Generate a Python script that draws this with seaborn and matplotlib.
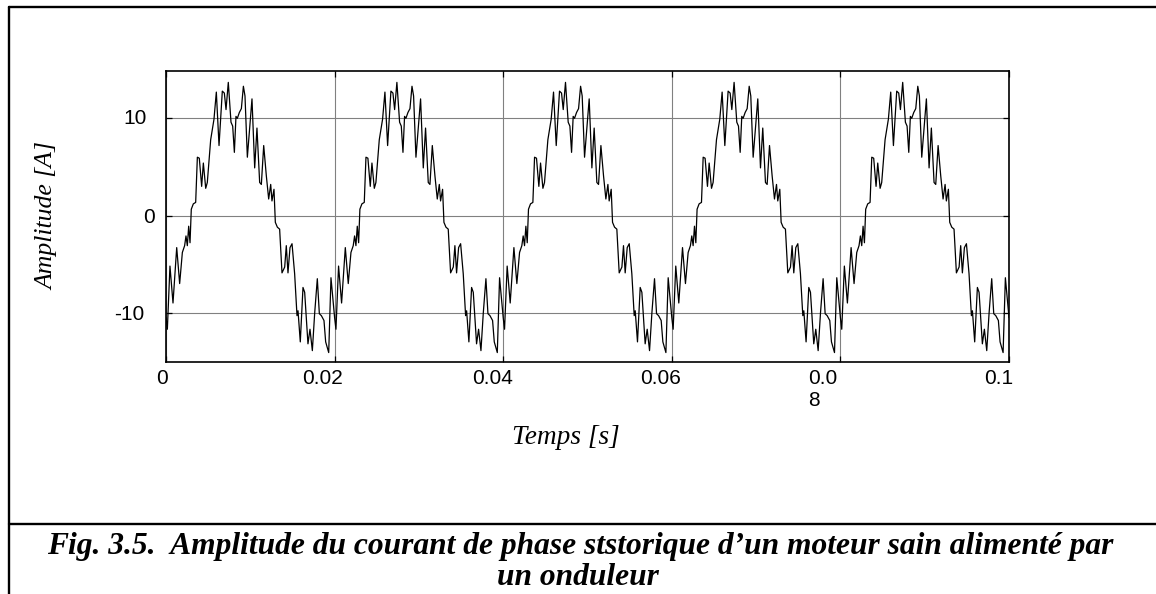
import numpy as np
import pandas as pd
import matplotlib
matplotlib.use("Agg")
import matplotlib.pyplot as plt
import seaborn as sns
from matplotlib.lines import Line2D
from matplotlib.transforms import ScaledTranslation

sns.set_theme(style="white")
plt.rcParams["font.family"] = ["Liberation Sans", "DejaVu Sans"]

# ---- data (one 20 ms period of the phase current) ----
period_t_ms = [0.0, 0.16, 0.47, 0.83, 1.27, 1.62, 1.94, 2.21, 2.37, 2.53, 2.69, 2.85,
               3.0, 3.24, 3.52, 3.72, 3.95, 4.23, 4.43, 4.71, 4.9, 5.3, 5.69, 5.97,
               6.29, 6.68, 6.92, 7.12, 7.39, 7.71, 7.91, 8.11, 8.3, 8.46, 8.7, 8.94,
               9.18, 9.37, 9.65, 10.2, 10.52, 10.79, 11.11, 11.31, 11.59, 11.9, 12.18,
               12.42, 12.57, 12.81, 12.97, 13.21, 13.48, 13.76, 14.08, 14.27, 14.47,
               14.71, 14.95, 15.26, 15.54, 15.66, 15.93, 16.25, 16.45, 16.84, 17.08,
               17.36, 17.64, 17.95, 18.19, 18.43, 18.74, 18.94, 19.3, 19.57]
period_current = [-10.5, -11.7, -5.2, -9.0, -3.3, -7.0, -3.8, -3.1, -2.1, -3.1, -1.1, -2.8,
                  0.65, 1.2, 1.35, 6.0, 5.9, 3.0, 5.4, 2.8, 3.4, 7.8, 9.9, 12.7,
                  7.2, 12.8, 12.6, 10.9, 13.7, 9.6, 9.2, 6.5, 10.2, 10.0, 10.6, 11.0,
                  13.3, 12.3, 6.0, 12.0, 4.9, 9.0, 3.4, 3.2, 7.2, 4.1, 1.7,
                  3.2, 1.5, 2.7, -0.7, -1.2, -1.4, -5.9, -5.3, -3.1, -5.9,
                  -3.3, -2.9, -6.0, -10.3, -9.8, -13.0, -7.4, -7.9, -13.2, -11.7,
                  -13.9, -10.0, -6.5, -10.1, -10.3, -10.8, -13.0, -14.1, -6.4]
n_periods = 5
period_ms = 20.0

x_ticks = [0, 0.02, 0.04, 0.06, 0.08, 0.1]
x_tick_labels = ["0", "0.02", "0.04", "0.06", "0.0\n8", "0.1"]
y_ticks = [-10, 0, 10]
y_tick_labels = ["-10", "0", "10"]

x_label = "Temps [s]"
y_label = "Amplitude [A]"
caption_1 = "Fig. 3.5.  Amplitude du courant de phase ststorique d\u2019un moteur sain alimenté par"
caption_2 = "un onduleur"

# ---- build the series ----
t_ms = np.concatenate([np.array(period_t_ms) + k * period_ms for k in range(n_periods)]
                      + [np.array([n_periods * period_ms])])
cur = np.concatenate([np.array(period_current)] * n_periods + [np.array(period_current[:1])])
df = pd.DataFrame({"t": t_ms / 1000.0, "i": cur})

W, H = 1156, 594
fig = plt.figure(figsize=(W / 100, H / 100), dpi=100)
fig.patch.set_facecolor("white")

ax_l, ax_r, ax_t, ax_b = 166, 1009, 71, 362
ax = fig.add_axes([ax_l / W, 1 - ax_b / H, (ax_r - ax_l) / W, (ax_b - ax_t) / H])

sns.lineplot(data=df, x="t", y="i", ax=ax, color="black", linewidth=0.9,
             estimator=None, sort=False)

ax.set_xlim(0, 0.1)
ax.set_ylim(-15.07, 14.87)
ax.set_xticks(x_ticks)
ax.set_xticklabels(x_tick_labels)
ax.set_yticks(y_ticks)
ax.set_yticklabels(y_tick_labels)
ax.grid(True, color="#808080", linewidth=0.8)
ax.set_axisbelow(True)
for s in ax.spines.values():
    s.set_color("black")
    s.set_linewidth(1.2)
ax.tick_params(direction="in", length=4, width=0.9, color="black",
               top=True, right=True, bottom=True, left=True,
               labelsize=15, labelcolor="black")
ax.tick_params(axis="x", pad=5)
ax.tick_params(axis="y", pad=8)

# per-label offsets (pixels) as in the reference
x_off = [-4, -12, -11, -11, -18, -10]
for lab, dx in zip(ax.get_xticklabels(), x_off):
    lab.set_transform(lab.get_transform() + ScaledTranslation(dx / 100, 0, fig.dpi_scale_trans))
    lab.set_multialignment("left")
y_off = [(-11, 0), (0, 0), (-8, 2)]
for lab, (dx, dy) in zip(ax.get_yticklabels(), y_off):
    lab.set_transform(lab.get_transform() + ScaledTranslation(dx / 100, dy / 100, fig.dpi_scale_trans))

serif = ["Liberation Serif", "DejaVu Serif"]
xl = ax.set_xlabel(x_label, fontfamily=serif, fontstyle="italic", fontsize=18,
                   color="black", va="center")
ax.xaxis.set_label_coords((566 - ax_l) / (ax_r - ax_l), (ax_b - 437) / (ax_b - ax_t))
yl = ax.set_ylabel(y_label, fontfamily=serif, fontstyle="italic", fontsize=18,
                   color="black", va="center")
ax.yaxis.set_label_coords((47 - ax_l) / (ax_r - ax_l), (ax_b - 216) / (ax_b - ax_t))

c1 = fig.text(580 / W, 1 - 554 / H, caption_1, ha="center", va="baseline",
              fontfamily=serif, fontstyle="italic", fontweight="bold", fontsize=20, color="black")
c2 = fig.text(578 / W, 1 - 585 / H, caption_2, ha="center", va="baseline",
              fontfamily=serif, fontstyle="italic", fontweight="bold", fontsize=20, color="black")

# fit text sizes to the widths measured on the reference
fig.canvas.draw()
r = fig.canvas.get_renderer()
def fit(txt, target, use_height=False):
    bb = txt.get_window_extent(r)
    cur_len = bb.height if use_height else bb.width
    txt.set_fontsize(txt.get_fontsize() * target / cur_len)
fit(c1, 1066)
c2.set_fontsize(c1.get_fontsize())
fit(xl, 108)
fit(yl, 148, use_height=True)

# page frame lines
lw = 1.7
fig.add_artist(Line2D([9 / W, 9 / W], [1 - 7 / H, 0], color="black", lw=lw, transform=fig.transFigure))
fig.add_artist(Line2D([9 / W, 1], [1 - 7 / H, 1 - 7 / H], color="black", lw=lw, transform=fig.transFigure))
fig.add_artist(Line2D([9 / W, 1], [1 - 524 / H, 1 - 524 / H], color="black", lw=lw, transform=fig.transFigure))

fig.savefig("out.png", dpi=100, facecolor="white")
